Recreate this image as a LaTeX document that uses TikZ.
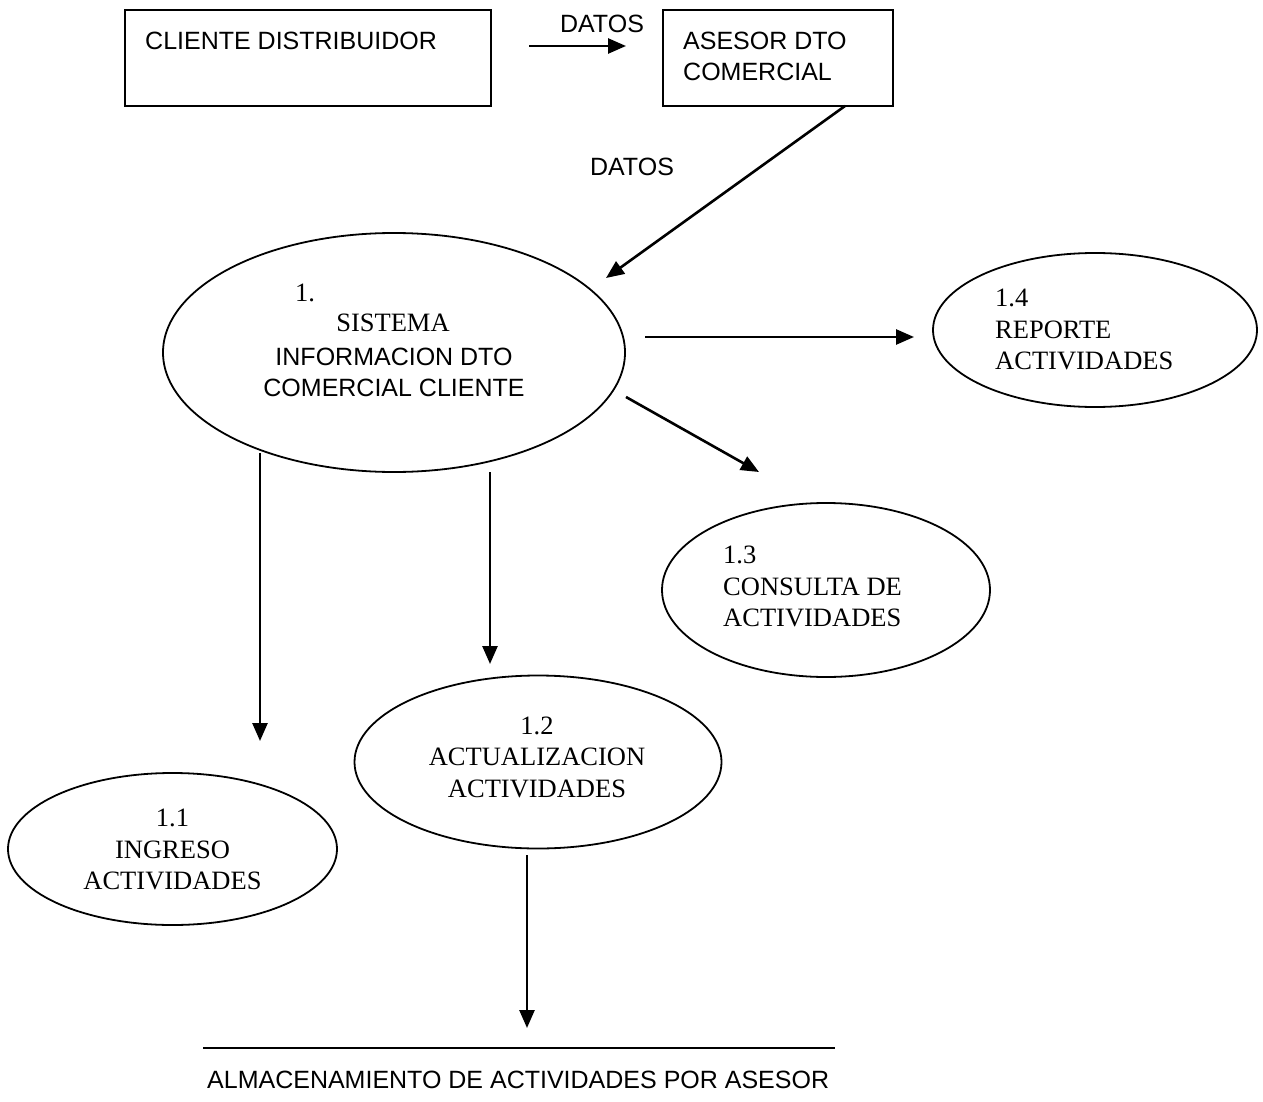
\documentclass[tikz,border=0pt]{standalone}
\usepackage{fontspec}
\setmainfont{Liberation Serif}
\newfontfamily\dfdsans{Liberation Sans}
\usetikzlibrary{arrows.meta,shapes.geometric}

\tikzset{
  entity/.style={draw, line width=1.8pt, rectangle, inner sep=0pt},
  proc/.style={draw, line width=1.8pt, ellipse, inner sep=0pt},
  flow/.style={line width=2.6pt, -{Triangle[length=18pt,width=15pt]}},
  sanstext/.style={inner sep=0pt, font=\dfdsans\fontsize{25}{31}\selectfont},
  seriftext/.style={inner sep=0pt, font=\fontsize{26.5}{31.5}\selectfont},
}

\begin{document}
\begin{tikzpicture}[x=1pt,y=-1pt]
  \fill[white] (0,0) rectangle (1263,1102);
  \useasboundingbox (0,0) rectangle (1263,1102);

  % external entities
  \node[entity, minimum width=366pt, minimum height=96pt] (cliente) at (308,58) {};
  \node[sanstext, anchor=west] (clientetxt) at (145,41) {CLIENTE DISTRIBUIDOR};
  \node[entity, minimum width=230pt, minimum height=96pt] (asesor) at (778,58) {};
  \node[sanstext, anchor=west, align=left] (asesortxt) at (683,56) {ASESOR DTO\\COMERCIAL};

  % main process
  \node[proc, minimum width=462pt, minimum height=239pt] (p1) at (394,352.5) {};
  \node[seriftext, anchor=west] (p1num) at (295,293) {1.};
  \node[seriftext] (p1a) at (393,323) {SISTEMA};
  \node[sanstext, align=center] (p1b) at (394,372) {INFORMACION DTO\\COMERCIAL CLIENTE};

  % sub-processes
  \node[proc, minimum width=329pt, minimum height=152pt] (p11) at (172.5,849) {};
  \node[seriftext, align=center] (p11txt) at (172.5,849.5) {1.1\\INGRESO\\ACTIVIDADES};

  \node[proc, minimum width=367pt, minimum height=173pt] (p12) at (538,762) {};
  \node[seriftext, align=center] (p12txt) at (537,757) {1.2\\ACTUALIZACION\\ACTIVIDADES};

  \node[proc, minimum width=328pt, minimum height=174pt] (p13) at (826,590) {};
  \node[seriftext, anchor=west, align=left] (p13txt) at (723,586.5) {1.3\\CONSULTA DE\\ACTIVIDADES};

  \node[proc, minimum width=324pt, minimum height=154pt] (p14) at (1095,330) {};
  \node[seriftext, anchor=west, align=left] (p14txt) at (995,329.5) {1.4\\REPORTE\\ACTIVIDADES};

  % data store
  \coordinate (storeL) at (203,1048);
  \coordinate (storeR) at (835,1048);
  \draw[line width=1.8pt] (storeL) -- (storeR);
  \node[sanstext, anchor=west] (storetxt) at (207,1080) {ALMACENAMIENTO DE ACTIVIDADES POR ASESOR};

  % flow end points
  \coordinate (f1s) at (529,46);   \coordinate (f1e) at (626,46);
  \coordinate (f2s) at (845,106);  \coordinate (f2e) at (606,278);
  \coordinate (f3s) at (645,337);  \coordinate (f3e) at (914,337);
  \coordinate (f4s) at (626,397);  \coordinate (f4e) at (759,472);
  \coordinate (f5s) at (260,453);  \coordinate (f5e) at (260,741);
  \coordinate (f6s) at (490,472);  \coordinate (f6e) at (490,664);
  \coordinate (f7s) at (527,855);  \coordinate (f7e) at (527,1028);

  % data flows
  \draw[flow] (f1s) -- (f1e);
  \node[sanstext] (datos1) at (602,24) {DATOS};
  \draw[flow] (f2s) -- (f2e);
  \node[sanstext] (datos2) at (632,167) {DATOS};
  \draw[flow] (f3s) -- (f3e);
  \draw[flow] (f4s) -- (f4e);
  \draw[flow] (f5s) -- (f5e);
  \draw[flow] (f6s) -- (f6e);
  \draw[flow] (f7s) -- (f7e);
\end{tikzpicture}
\end{document}
